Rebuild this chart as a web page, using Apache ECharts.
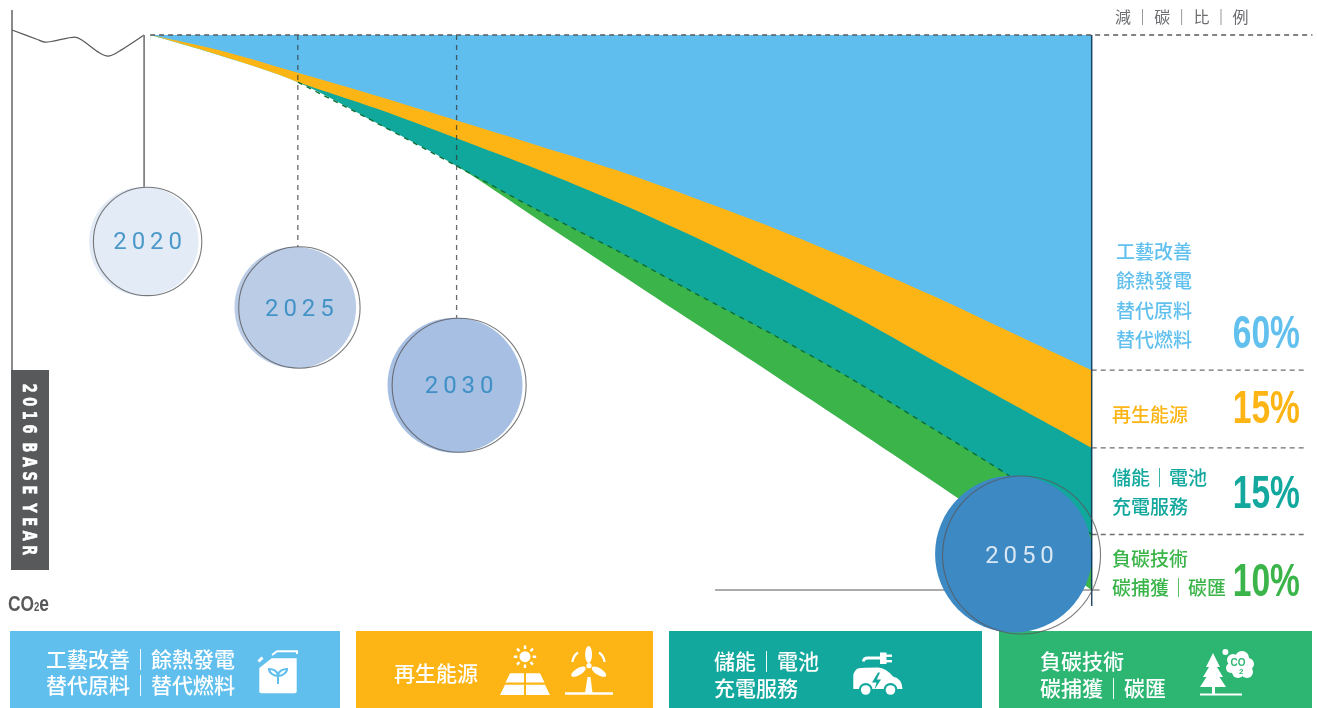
<!DOCTYPE html>
<html><head><meta charset="utf-8">
<style>html,body{margin:0;padding:0;background:#fff}#c{width:1317px;height:708px}</style>
<script src="https://cdn.jsdelivr.net/npm/echarts@6/dist/echarts.min.js"></script>
</head><body><div id="c"></div>
<script>
// ---- data (x = year, y = % of base-year CO2e) ----
const years = [2020.35,2022.5,2025,2027.5,2030,2032.5,2035,2037.5,2040,2042.5,2045,2047.5,2050];
const topLevel = [100,100,100,100,100,100,100,100,100,100,100,100,100];
const blueLower = [100,97.3,93.2,89.0,84.6,80.2,75.7,70.6,65.2,59.3,53.0,46.3,39.6];
const orangeLower = [100,96.4,91.5,86.7,81.4,75.9,70.0,63.6,56.6,49.4,41.4,33.5,25.6];
const tealLower = [100,96.4,91.5,84.1,76.4,68.6,61.3,53.5,45.9,37.8,29.1,20.2,10.0];
const greenLower = [100,96.4,91.5,84.1,76.4,67.0,57.5,48.1,38.7,29.2,19.6,9.9,0];
const baseYears = [2016,2016.8,2017.04,2017.3,2017.98,2018.2,2018.75,2019.02,2019.3,2020.16];
const baseLevels = [100.9,99.2,98.7,98.9,99.6,99.1,96.8,96.2,96.8,100];
const milestoneLabels = ['2020','2025','2030','2050'];
const ringYears = [2020.27,2025.05,2030.08,2047.79];
const ringLevels = [62.8,50.9,36.9,6.3];
const ringSizes = [108.4,121.4,134,158];
const fillYears = [2020.15,2024.92,2029.95,2047.54];
const fillLevels = [62.8,50.9,36.9,6.5];
const fillSizes = [109.4,121.6,135,157];
const fillColors = ['#E3EBF6','#BBCCE6','#A6BFE3','#3D89C3'];
const labelColors = ['#2585BE','#2585BE','#2585BE','#FFFFFF'];
const dropTops = [72.4,61.8,49];
const shares = ['60%','15%','15%','10%'];
const shareColors = ['#62C0EE','#FDB515','#12A89D','#3BB54A'];
const names = [['工藝改善','餘熱發電','替代原料','替代燃料'],['再生能源'],['儲能｜電池','充電服務'],['負碳技術','碳捕獲｜碳匯']];
const boxNames = [['工藝改善｜餘熱發電','替代原料｜替代燃料'],['再生能源'],['儲能｜電池','充電服務'],['負碳技術','碳捕獲｜碳匯']];
const headerChars = ['減','｜','碳','｜','比','｜','例'];

const CJK = '"Noto Sans CJK TC","Noto Sans CJK SC",sans-serif';
const C = {blue:'#5FBEED',orange:'#FDB515',teal:'#10A79C',green:'#3BB54A'};
const pair = (xs,ys)=>xs.map((x,i)=>[x,ys[i]]);
// each band is painted from its upper edge down to the 2050 zero line; the next band paints over it
const layer = (name,levels,color)=>({type:'line',name,data:pair(years,levels),symbol:'none',silent:true,z:3,
  smooth:0.3,smoothMonotone:'none',
  lineStyle:{width:0,opacity:0},areaStyle:{color,opacity:1,origin:0}});
const seg = (data,color,width,dash)=>({type:'line',data,symbol:'none',silent:true,clip:false,z:3,
  lineStyle:{color,width,type:dash||'solid'}});

// ---- side text, boxes, icons ----
const g = [];
const text = (t,x,y,font,fill,extra)=>g.push({type:'text',x,y,style:{text:t,font,fill,textAlign:'left',textVerticalAlign:'middle',...(extra||{})}});
const rect = (x,y,w,h,fill)=>g.push({type:'rect',shape:{x,y,width:w,height:h},style:{fill}});
const W = '#fff';

rect(11,370,38,200,'#58595B');
g.push({type:'text',x:28,y:469.5,rotation:-Math.PI/2,scaleY:1.45,style:{text:'2 0 1 6  B A S E  Y E A R',font:'bold 13px "DejaVu Sans"',fill:W,stroke:W,lineWidth:0.4,textAlign:'center',textVerticalAlign:'middle'}});
g.push({type:'text',x:8,y:605,scaleX:0.79,style:{rich:{a:{font:'bold 22px "Liberation Sans"',fill:'#58595B'},b:{font:'bold 12px "Liberation Sans"',fill:'#58595B',padding:[6,0,0,0]}},text:'{a|CO}{b|2}{a|e}',textVerticalAlign:'middle'}});

headerChars.forEach((ch,i)=>text(ch,1115+i*19.6,17,'16px '+CJK,'#6D6E71'));

// right column names + percentages
const nameY = [[252,281,311,340],[415],[478,507],[559,588]];
const nameX = [1116,1112,1112,1112];
const shareY = [335.5,410.5,495.5,583.5];
names.forEach((list,k)=>list.forEach((t,j)=>text(t,nameX[k],nameY[k][j],'500 19px '+CJK,shareColors[k])));
shares.forEach((t,k)=>g.push({type:'text',x:1300,y:shareY[k],scaleX:0.715,style:{text:t,font:'bold 47px "Liberation Sans"',fill:shareColors[k],textAlign:'right',textVerticalAlign:'middle'}}));

// bottom boxes
rect(10,631,330,77,'#61BFEE');rect(356,631,297,77,'#FDB515');rect(669,631,313,77,'#12A89D');rect(999,631,313,77,'#2DB672');
const boxX=[46,394,714,1040];const boxY=[[659,685],[673],[661,688],[661,688]];
boxNames.forEach((list,k)=>list.forEach((t,j)=>text(t,boxX[k],boxY[k][j],'500 21px '+CJK,W)));

// icons are drawn in a custom series (graphic component has no path type)
const ic = [];
const path = (d,style)=>ic.push({type:'path',shape:{pathData:d},style});
const irect = (x,y,width,height,fill)=>ic.push({type:'rect',shape:{x,y,width,height},style:{fill}});
const circ = (cx,cy,r,fill)=>ic.push({type:'circle',shape:{cx,cy,r},style:{fill}});
const line = (d,w,c)=>path(d,{fill:'none',stroke:c||W,lineWidth:w});
// fuel can
path('M259.3 668 L271.7 658.3 L296.7 658.3 L296.7 691.3 Q296.7 693.3 294.7 693.3 L261.3 693.3 Q259.3 693.3 259.3 691.3 Z',{fill:W});
line('M272 655 L277 651.2 L297 651.2 L297 654',2);
line('M258.5 661.5 L262.5 657.5',3);
line('M278 684 L278 676 C274 676 269 673 269 669 C273 669 278 671 278 676 C278 671 283 669 287 669 C287 673 282 676 278 676',2,'#61BFEE');
// solar panel
circ(525,656.7,5.5,W);
line('M525 645.5 V649 M525 664.5 V668 M513.8 656.7 H517.3 M532.7 656.7 H536.2 M517 648.7 L519.5 651.2 M533 648.7 L530.5 651.2 M517 664.7 L519.5 662.2 M533 664.7 L530.5 662.2',2.4);
path('M510 673.3 H524 V682.5 H505.5 Z M526 673.3 H540 L544.5 682.5 H526 Z M505 684.7 H524 V695 H500 Z M526 684.7 H545 L550 695 H526 Z',{fill:W});
// wind turbine
circ(589,665.7,2.6,W);
ic.push({type:'ellipse',shape:{cx:588.6,cy:654.5,rx:3.4,ry:8.5},style:{fill:W}});
ic.push({type:'ellipse',x:578.5,y:671.7,rotation:0.55,shape:{cx:0,cy:0,rx:8.2,ry:3.4},style:{fill:W}});
ic.push({type:'ellipse',x:599,y:671.7,rotation:-0.55,shape:{cx:0,cy:0,rx:8.2,ry:3.4},style:{fill:W}});
line('M572.5 662 Q573 656 578 652.5 M599 652.5 Q604 656 604.5 662',2.2);
path('M587.5 677 H590.5 L592.5 693 H585 Z',{fill:W});
line('M565 693.5 H613',2.6);
// electric car
path('M853.3 689 L853.3 675 Q854 671 857.7 668.5 Q862 667.5 878 667.5 Q886 668 893 676.5 Q902 678.5 902.5 689 Z',{fill:W});
[865.7,890.5].forEach(cx=>{circ(cx,690,7,'#12A89D');circ(cx,690,4.8,W);});
path('M878 672.5 L872 682.5 L876.5 682.5 L874.5 689.5 L881 679.5 L876.8 679.5 L880 672.5 Z',{fill:'#12A89D'});
line('M863.5 661.5 Q863.5 658 868 658 L881 658',2.8);
irect(880,652.5,6.5,11.5,W);irect(886,654.5,6,2.4,W);irect(886,660,6,2.4,W);
// tree + CO2 cloud
path('M1213 653 L1220 667 L1217 667 L1223 677 L1219.5 677 L1226 687 L1200 687 L1206.5 677 L1203 677 L1209 667 L1206 667 Z',{fill:W});
irect(1212,687,3,7,W);line('M1200 694.5 H1242',2.2);
[[1225.4,652,3],[1233,660,6],[1242,658,7],[1248,664,6],[1247,672,6],[1238,672,6],[1231,668,5],[1240,666,9]].forEach(c=>circ(c[0],c[1],c[2],W));
ic.push({type:'text',x:1230.5,y:663.5,style:{text:'CO',font:'bold 10px "Liberation Sans"',fill:'#2DB672',textVerticalAlign:'middle'}});
ic.push({type:'text',x:1239,y:672,style:{text:'2',font:'bold 8px "Liberation Sans"',fill:'#2DB672',textVerticalAlign:'middle'}});

const series = [
  layer('blue',topLevel,C.blue),
  layer('orange',blueLower,C.orange),
  layer('teal',orangeLower,C.teal),
  layer('green',tealLower,C.green),
  layer('below',greenLower,'#FFFFFF'),
  // hides the anti-aliased left seam of the painted bands under the wedge tip
  seg([[years[0],99],[years[0],-0.4]],'#FFFFFF',2.4),
  // 2016-2020 history + axes
  {...seg(pair(baseYears,baseLevels),'#58595B',1.2),smooth:0.25},
  seg([[2016,104.5],[2016,39.6]],'#58595B',1.4),
  seg([[2020.16,100],[2020.16,dropTops[0]]],'#808285',1.8),
  seg([[2025,100],[2025,dropTops[1]]],'rgba(50,50,50,.72)',1.3,[5,5]),
  seg([[2030,100],[2030,dropTops[2]]],'rgba(50,50,50,.72)',1.3,[5,5]),
  {...seg(pair(years.slice(2),tealLower.slice(2)),'#0B6E37',1.4,[5,5]),smooth:0.3,smoothMonotone:'none'},
  seg([[2020.35,100],[2056.95,100]],'#58595B',1.3,[5,4]),
  seg([[2050,39.6],[2056.8,39.6]],'#6D6E71',1.3,[5,4]),
  seg([[2050,25.6],[2056.8,25.6]],'#6D6E71',1.3,[5,4]),
  seg([[2050,10],[2056.8,10]],'#6D6E71',1.3,[5,4]),
  seg([[2038.14,0],[2050.25,0]],'#58595B',1),
  // milestone discs
  {type:'scatter',silent:true,clip:false,z:4,
   data:fillYears.map((x,i)=>({value:[x,fillLevels[i]],symbolSize:fillSizes[i],itemStyle:{color:fillColors[i],opacity:1}}))},
  {...seg([[2050,100],[2050,-2.9]],'rgba(10,50,80,.88)',1.5),z:5},
  {type:'scatter',silent:true,clip:false,z:6,
   data:ringYears.map((x,i)=>({value:[x,ringLevels[i]],symbolSize:ringSizes[i],
     itemStyle:{color:'rgba(0,0,0,0)',borderColor:'#58595B',borderWidth:1.1},
     label:{show:true,position:'inside',offset:[i===3?-2:0,2],formatter:milestoneLabels[i].split('').join('\u2009'),
       color:labelColors[i],fontFamily:'Roboto',fontSize:24,fontWeight:400}}))},
  {type:'custom',coordinateSystem:'none',silent:true,z:7,data:[[0]],
   renderItem:()=>({type:'group',children:ic})}
];

echarts.init(document.getElementById('c'),null,{renderer:'canvas'}).setOption({
  animation:false,backgroundColor:'#fff',
  grid:{left:12,right:3,top:7.25,bottom:7,containLabel:false},
  xAxis:{type:'value',min:2016,max:2057,show:false},
  yAxis:{type:'value',min:-20,max:105,show:false},
  tooltip:{show:false},legend:{show:false},
  graphic:{elements:g},
  series
});
</script></body></html>
